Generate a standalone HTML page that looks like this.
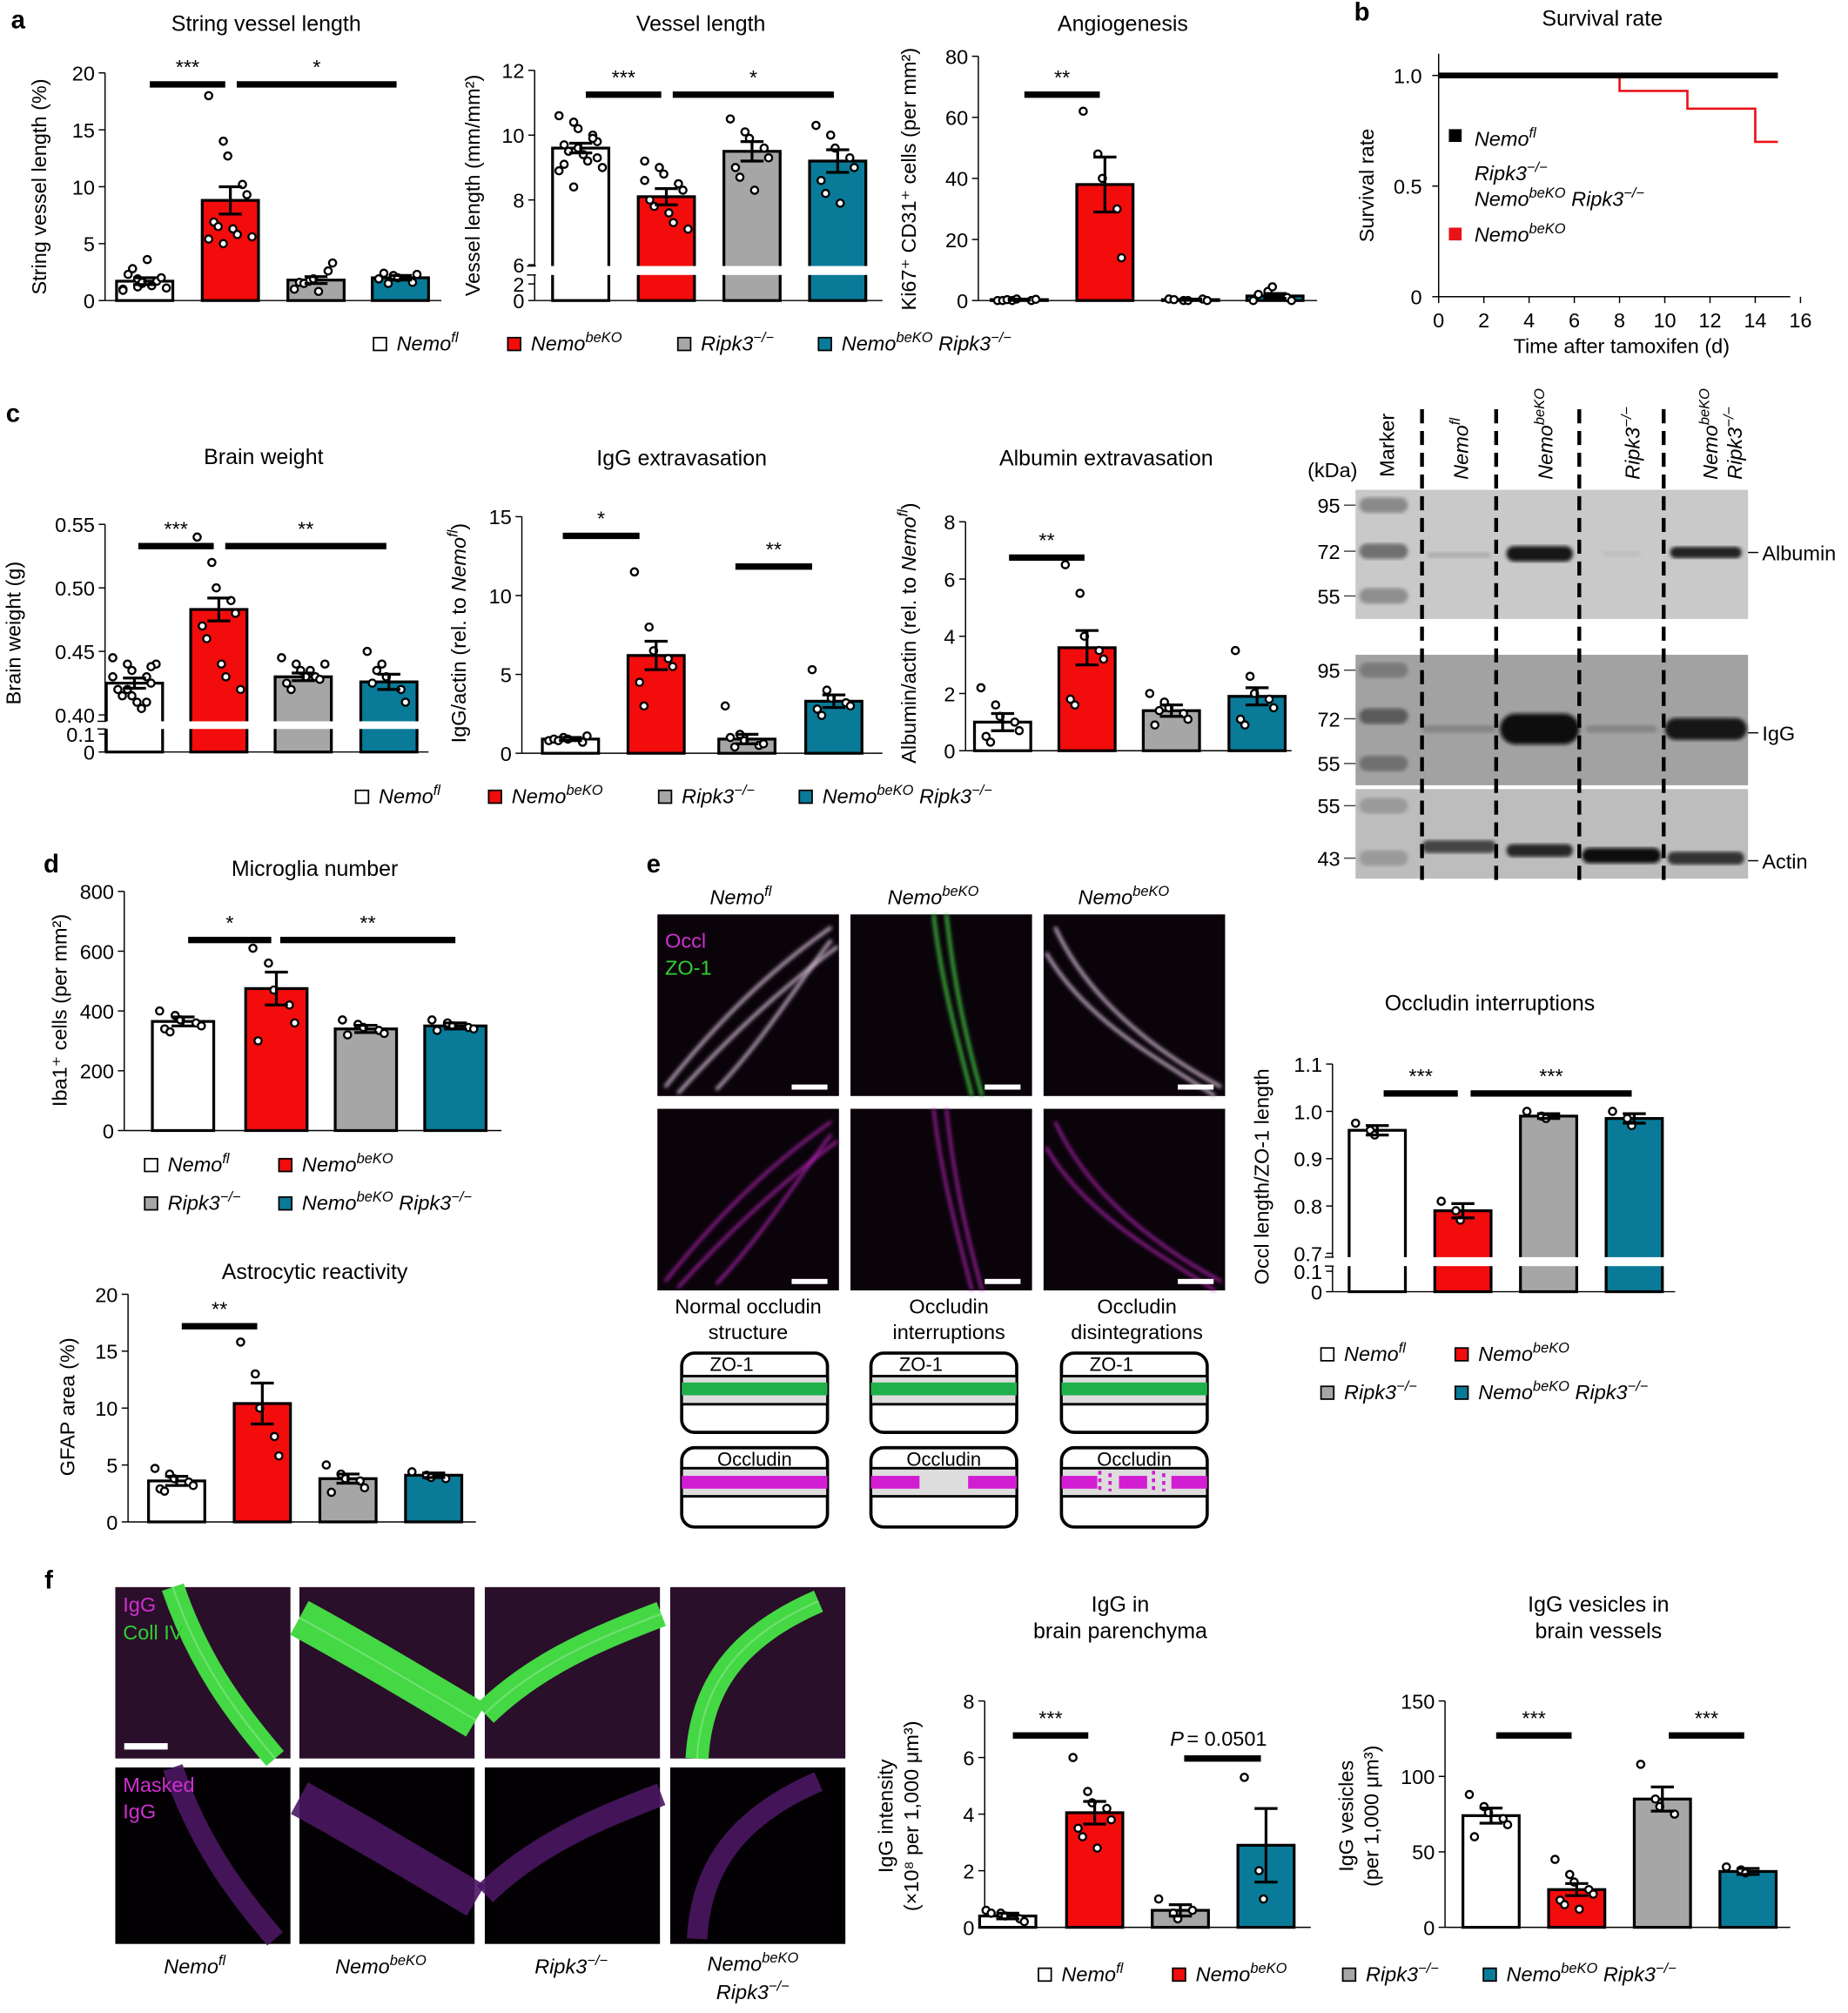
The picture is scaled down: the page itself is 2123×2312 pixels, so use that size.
<!DOCTYPE html>
<html><head><meta charset="utf-8"><style>
html,body{margin:0;padding:0;background:#fff;}
svg{display:block;font-family:"Liberation Sans",sans-serif;}
</style></head><body>
<svg id="fig" xmlns="http://www.w3.org/2000/svg" width="2123" height="2312" viewBox="0 0 1445 1574">
<defs>
<filter id="blur1"><feGaussianBlur stdDeviation="1.5"/></filter>
<filter id="blur3"><feGaussianBlur stdDeviation="3"/></filter>
</defs>
<g id="root"></g>
</svg>
<script>
// ---------- DATA ----------
const groups = ["Nemo fl","Nemo beKO","Ripk3 -/-","Nemo beKO Ripk3 -/-"];
const stringVals = [1.7, 8.8, 1.8, 2.0];
const stringErr = [0.3, 1.2, 0.3, 0.2];
const stringPts = [[1.0,1.2,1.5,1.7,2.0,2.3,2.8,3.6,1.3,1.1,0.9,1.9,1.6],[18,14,12.7,10.2,9.3,6.9,6.5,6.3,5.8,5.6,5.4,5.0],[1.0,1.7,1.9,2.6,3.3,1.6,1.5,0.8],[1.9,2.2,2.0,1.6,2.3,2.4,1.5]];
const vesselVals = [9.6, 8.1, 9.5, 9.2];
const vesselErr = [0.15, 0.25, 0.3, 0.35];
const vesselPts = [[10.6,10.4,10.2,10.0,9.8,9.7,9.5,9.4,9.2,9.0,8.9,8.4,9.6,9.9,9.3,9.1],[9.2,9.0,8.8,8.5,8.3,8.0,7.8,7.6,7.3,7.1,8.6],[10.5,10.1,9.9,9.6,9.3,9.0,8.7,8.3],[10.3,10.0,9.6,9.3,9.0,8.6,8.2,7.9]];
const angioVals = [0.3, 38, 0.3, 1.5];
const angioErr = [0.2, 9, 0.2, 0.8];
const angioPts = [[0,0,0.5,0,0.4,0,0.3],[62,48,40,30,14],[0.5,0,0,0.5,0,0.3],[0,3,4.5,1,0,2]];
const survDays = [0,8,11,14,15];
const survRed = [1.0,0.93,0.85,0.70,0.70];
const survBlack = [1.0,1.0,1.0,1.0,1.0];
const brainVals = [0.425, 0.483, 0.430, 0.426];
const brainErr = [0.004, 0.009, 0.003, 0.006];
const brainPts = [[0.445,0.44,0.435,0.43,0.425,0.42,0.415,0.41,0.405,0.44,0.43,0.42,0.415,0.41,0.438],[0.54,0.52,0.50,0.49,0.48,0.47,0.46,0.44,0.43,0.42],[0.445,0.44,0.435,0.43,0.428,0.425,0.42,0.43,0.435,0.44],[0.45,0.44,0.43,0.42,0.41,0.425,0.435]];
const iggVals = [0.9, 6.2, 0.9, 3.3];
const iggErr = [0.1, 0.9, 0.3, 0.4];
const iggPts = [[0.8,1.0,0.9,0.7,1.1,0.9,0.8],[11.5,8.0,6.5,6.0,5.5,4.5,3.0],[3.0,1.2,0.8,0.5,0.6,1.0,0.4],[5.3,4.0,3.5,3.2,3.0,2.8,2.4]];
const albVals = [1.0, 3.6, 1.4, 1.9];
const albErr = [0.3, 0.6, 0.2, 0.3];
const albPts = [[2.2,1.6,1.2,1.0,0.7,0.5,0.3],[6.5,5.5,4.0,3.5,3.2,1.8,1.6],[2.0,1.7,1.5,1.3,1.1,0.9,1.4],[3.5,2.6,2.0,1.8,1.5,1.1,0.9]];
const microVals = [365, 475, 340, 350];
const microErr = [15, 55, 12, 10];
const microPts = [[400,385,370,360,350,340,330],[610,560,470,420,360,300],[370,355,345,335,325,320],[370,360,350,345,340,335]];
const gfapVals = [3.6, 10.4, 3.8, 4.1];
const gfapErr = [0.4, 1.8, 0.4, 0.2];
const gfapPts = [[4.7,4.2,3.8,3.5,3.2,2.9,2.7],[15.8,13.0,10.0,7.5,5.8],[5.0,4.2,3.8,3.6,3.0,2.6],[4.4,4.1,3.9,3.8]];
const occVals = [0.96, 0.79, 0.99, 0.985];
const occErr = [0.01, 0.015, 0.005, 0.01];
const occPts = [[0.975,0.96,0.95],[0.81,0.79,0.77],[1.0,0.99,0.985],[1.0,0.985,0.97]];
const intVals = [0.4, 4.05, 0.6, 2.9];
const intErr = [0.1, 0.4, 0.2, 1.3];
const intPts = [[0.6,0.5,0.4,0.3,0.2,0.5],[6.0,4.8,4.4,4.2,3.8,3.5,3.2,2.8],[1.0,0.5,0.3,0.6],[5.3,2.0,1.0]];
const vesVals = [74, 25, 85, 37];
const vesErr = [5, 4, 8, 2];
const vesPts = [[88,80,76,72,68,60],[45,35,30,25,22,18,15,12],[108,85,80,75],[40,38,36]];

// ---------- HELPERS ----------
const NS="http://www.w3.org/2000/svg";
const root=document.getElementById('root');
const COL=["#ffffff","#f20c0c","#a6a6a6","#097b98"];
function mk(tag,attrs,parent){const e=document.createElementNS(NS,tag);for(const k in attrs)e.setAttribute(k,attrs[k]);(parent||root).appendChild(e);return e;}
function txt(x,y,s,size,opts,parent){opts=opts||{};const t=mk('text',{x:x,y:y,'font-size':size,'text-anchor':opts.anchor||'middle',fill:opts.fill||'#000'},parent);if(opts.italic)t.setAttribute('font-style','italic');if(opts.bold)t.setAttribute('font-weight','bold');if(opts.rot)t.setAttribute('transform','rotate('+opts.rot+' '+x+' '+y+')');t.textContent=s;return t;}
// parts: [text, sup, resetBaseline, normal(non-italic)]
function richTxt(x,y,parts,size,opts,parent){opts=opts||{};const t=mk('text',{x:x,y:y,'font-size':size,'text-anchor':opts.anchor||'start','font-style':'italic'},parent);if(opts.rot)t.setAttribute('transform','rotate('+opts.rot+' '+x+' '+y+')');parts.forEach(p=>{const s=document.createElementNS(NS,'tspan');if(p[1]){s.setAttribute('font-size',size*0.7);s.setAttribute('dy',-size*0.4);}else if(p[2]){s.setAttribute('dy',size*0.4);}if(p[3])s.setAttribute('font-style','normal');s.textContent=p[0];t.appendChild(s);});return t;}
function lab(t,n,i){return t;}
function panelLetter(x,y,s){const t=txt(x,y,s,20,{bold:true});}
function gparts(i){if(i==0)return [["Nemo"],["fl",1]];if(i==1)return [["Nemo"],["beKO",1]];if(i==2)return [["Ripk3"],["−/−",1]];return [["Nemo"],["beKO",1],[" Ripk3",0,1],["−/−",1]];}
function legendItem(x,y,i,g){const r=mk('rect',{x:x,y:y-10,width:10,height:10,fill:COL[i],stroke:'#000','stroke-width':1.2},g);const t=richTxt(x+18,y,gparts(i),16,{},g);}

function barChart(c){
  const g=mk('g',{});
  const y=c.y;
  const ax=mk('line',{x1:c.ax,y1:y(c.ymax),x2:c.ax,y2:c.base,stroke:'#000','stroke-width':1},g);
  const xa=mk('line',{x1:c.ax,y1:c.base,x2:c.axEnd,y2:c.base,stroke:'#000','stroke-width':1},g);
  c.ticks.forEach(t=>{const l=mk('line',{x1:c.ax-5,x2:c.ax,y1:y(t),y2:y(t),stroke:'#000'},g);const tl=txt(c.ax-8,y(t)+6,c.fmt?c.fmt(t):String(t),c.tsize||16,{anchor:'end'},g);});
  c.vals.forEach((v,i)=>{
    const cx=c.cx[i],w=c.bw||44;
    const b=mk('rect',{x:cx-w/2,y:y(v),width:w,height:c.base-y(v),fill:COL[i],stroke:'#000','stroke-width':2.2},g);
    
    (c.pts[i]||[]).forEach((p,j)=>{const off=((j%5)-2)*w*0.17+((j%2)?2:-2);const d=mk('circle',{cx:cx+off,cy:y(p),r:2.8,fill:'#fff',stroke:'#000','stroke-width':1.6},g);});
    const e=c.errs[i];const eg=mk('path',{d:`M${cx},${y(v-e)}V${y(v+e)}M${cx-9},${y(v+e)}H${cx+9}M${cx-9},${y(v-e)}H${cx+9}`,stroke:'#000','stroke-width':2.2,fill:'none'},g);
  });
  if(c.brk){const r=mk('rect',{x:c.ax-8,y:c.brk[0],width:c.axEnd-c.ax+10,height:c.brk[1]-c.brk[0],fill:'#fff'},g);mk('line',{x1:c.ax-6,x2:c.ax+1,y1:c.brk[0],y2:c.brk[0],stroke:'#000'},g);mk('line',{x1:c.ax-6,x2:c.ax+1,y1:c.brk[1],y2:c.brk[1],stroke:'#000'},g);
    c.lowTicks.forEach(t=>{mk('line',{x1:c.ax-5,x2:c.ax,y1:y(t),y2:y(t),stroke:'#000'},g);const tl=txt(c.ax-8,y(t)+6,c.fmt?c.fmt(t):String(t),c.tsize||16,{anchor:'end'},g);});}
  (c.sig||[]).forEach(s=>{const l=mk('rect',{x:s[0],y:s[2]-2.5,width:s[1]-s[0],height:5,fill:'#000'},g);const t=txt((s[0]+s[1])/2,s[2]-8,s[3],16,{},g);});
  const tt=txt(c.title[1],c.title[2],c.title[0],17,{},g);
  if(c.title2){const t2=txt(c.title[1],c.title[2]+21,c.title2,17,{},g);}
  c.ylab.forEach(yl=>{let t;if(yl[3]){t=richTxt(yl[1],yl[2],yl[3],16,{rot:-90,anchor:'middle'},g);}else t=txt(yl[1],yl[2],yl[0],16,{rot:-90},g);});
}
function lin(v0,p0,v1,p1){return v=>p0+(v-v0)*(p1-p0)/(v1-v0);}
function brokenY(lowMax,lowMaxPx,hi0,hi0px,hi1,hi1px,base){const hi=lin(hi0,hi0px,hi1,hi1px);const lo=lin(0,base,lowMax,lowMaxPx);return v=>v>=hi0?hi(v):(v<=lowMax?lo(v):hi0px);}

// ---------- PANEL a ----------
panelLetter(14,22,'a');
barChart({name:'string-vessel-chart',ax:82,axEnd:345,base:235,ymax:20,y:lin(0,235,20,57),ticks:[0,5,10,15,20],vals:stringVals,errs:stringErr,pts:stringPts,cx:[113,180,247,313],sig:[[117,176,66,'***'],[185,310,66,'*']],title:['String vessel length',208,24],ylab:[['String vessel length (%)',36,146]]});
barChart({name:'vessel-length-chart',ax:418,axEnd:690,base:235,ymax:12,y:brokenY(2,222,6,207,12,55,235),ticks:[6,8,10,12],lowTicks:[0,2],brk:[208,215],vals:vesselVals,errs:vesselErr,pts:vesselPts,cx:[454,521,588,655],sig:[[458,517,74,'***'],[526,652,74,'*']],title:['Vessel length',548,24],ylab:[['Vessel length (mm/mm²)',375,145]]});
barChart({name:'angiogenesis-chart',ax:765,axEnd:1030,base:235,ymax:80,y:lin(0,235,80,44),ticks:[0,20,40,60,80],vals:angioVals,errs:angioErr,pts:angioPts,cx:[797,864,931,997],sig:[[801,860,74,'**']],title:['Angiogenesis',878,24],ylab:[['Ki67⁺ CD31⁺ cells (per mm²)',716,140]]});
{const g=mk('g',{});lab(g,'legend-a');[[292,0],[397,1],[530,2],[640,3]].forEach(p=>legendItem(p[0],274,p[1],g));}

// ---------- PANEL b survival ----------
panelLetter(1065,16,'b');
{const g=mk('g',{});lab(g,'survival-chart');
 const xs=lin(0,1125,16,1408),ys=lin(0,232,1,59);
 mk('line',{x1:1125,y1:42,x2:1125,y2:232,stroke:'#000'},g);mk('line',{x1:1125,y1:232,x2:1400,y2:232,stroke:'#000'},g);
 [0,0.5,1.0].forEach(v=>{mk('line',{x1:1120,x2:1125,y1:ys(v),y2:ys(v),stroke:'#000'},g);lab(txt(1112,ys(v)+6,v==0?'0':v.toFixed(1),16,{anchor:'end'},g),'y-tick-label');});
 [0,2,4,6,8,10,12,14,16].forEach(v=>{mk('line',{x1:xs(v),x2:xs(v),y1:232,y2:237,stroke:'#000'},g);lab(txt(xs(v),256,String(v),16,{},g),'x-tick-label');});
 function step(arr,col,w,n){let d=`M${xs(survDays[0])},${ys(arr[0])}`;for(let i=1;i<survDays.length;i++){d+=`H${xs(survDays[i])}V${ys(arr[i])}`;}const p=mk('path',{d:d,fill:'none',stroke:col,'stroke-width':w},g);lab(p,n);}
 step(survRed,'#e8141a',1.8,'survival-line-nemo-beko');step(survBlack,'#000',4.5,'survival-line-control');
 lab(txt(1253,20,'Survival rate',17,{},g),'chart-title');lab(txt(1268,276,'Time after tamoxifen (d)',16,{},g),'x-axis-title');lab(txt(1074,145,'Survival rate',16,{rot:-90},g),'y-axis-title');
 mk('rect',{x:1133,y:101,width:10,height:10,fill:'#000'},g);lab(richTxt(1153,114,[["Nemo"],["fl",1]],16,{},g),'legend-label');
 lab(richTxt(1153,141,[["Ripk3"],["−/−",1]],16,{},g),'legend-label');lab(richTxt(1153,161,[["Nemo"],["beKO",1],[" Ripk3",0,1],["−/−",1]],16,{},g),'legend-label');
 mk('rect',{x:1133,y:178,width:10,height:10,fill:'#e8141a'},g);lab(richTxt(1153,189,[["Nemo"],["beKO",1]],16,{},g),'legend-label');
}

// ---------- PANEL c ----------
panelLetter(10,330,'c');
barChart({name:'brain-weight-chart',ax:82,axEnd:335,base:588,ymax:0.55,y:brokenY(0.1,574,0.40,559,0.55,410,588),ticks:[0.40,0.45,0.50,0.55],lowTicks:[0,0.1],brk:[564,570],fmt:v=>v==0?'0':(v==0.1?'0.1':v.toFixed(2)),vals:brainVals,errs:brainErr,pts:brainPts,cx:[105,171,237,304],sig:[[108,167,427,'***'],[176,302,427,'**']],title:['Brain weight',206,363],ylab:[['Brain weight (g)',16,495]]});
barChart({name:'igg-extravasation-chart',ax:408,axEnd:690,base:589,ymax:15,y:lin(0,589,15,404),ticks:[0,5,10,15],vals:iggVals,errs:iggErr,pts:iggPts,cx:[446,513,584,652],sig:[[440,500,419,'*'],[575,635,443,'**']],title:['IgG extravasation',533,364],ylab:[['',364,495,[['IgG/actin (rel. to ',0,0,1],['Nemo'],['fl',1],[')',0,1,1]]]]});
barChart({name:'albumin-extravasation-chart',ax:755,axEnd:1010,base:587,ymax:8,y:lin(0,587,8,408),ticks:[0,2,4,6,8],vals:albVals,errs:albErr,pts:albPts,cx:[784,850,916,983],sig:[[789,848,436,'**']],title:['Albumin extravasation',865,364],ylab:[['',716,495,[['Albumin/actin (rel. to ',0,0,1],['Nemo'],['fl',1],[')',0,1,1]]]]});
{const g=mk('g',{});lab(g,'legend-c');[[278,0],[382,1],[515,2],[625,3]].forEach(p=>legendItem(p[0],628,p[1],g));}

// western blot
{const g=mk('g',{});lab(g,'western-blot');
 lab(txt(1042,373,'(kDa)',16,{},g),'kda-label');
 lab(txt(1090,373,'Marker',16,{anchor:'start',rot:-90},g),'lane-label');
 lab(richTxt(1148,375,[["Nemo"],["fl",1]],16,{rot:-90},g),'lane-label');
 lab(richTxt(1214,375,[["Nemo"],["beKO",1]],16,{rot:-90},g),'lane-label');
 lab(richTxt(1282,375,[["Ripk3"],["−/−",1]],16,{rot:-90},g),'lane-label');
 lab(richTxt(1343,375,[["Nemo"],["beKO",1]],16,{rot:-90},g),'lane-label');
 lab(richTxt(1362,375,[["Ripk3"],["−/−",1]],16,{rot:-90},g),'lane-label');
 const panels=[[383,484,'#c9c9c9'],[512,614,'#a2a2a2'],[617,687,'#bdbdbd']];
 panels.forEach((p,i)=>{const r=mk('rect',{x:1060,y:p[0],width:307,height:p[1]-p[0],fill:p[2]},g);lab(r,'blot-panel');});
 [[395,'#8a8a8a'],[431,'#707070'],[466,'#8e8e8e'],[524,'#7a7a7a'],[560,'#5a5a5a'],[597,'#707070'],[630,'#9a9a9a'],[671,'#9a9a9a']].forEach(b=>{mk('rect',{x:1063,y:b[0]-6,width:38,height:12,rx:6,fill:b[1],filter:'url(#blur1)'},g);});
 // sample bands [cx,cy,w,h,color]
 [[1141,434,50,5,'#b0b0b0'],[1204,433,52,12,'#161616'],[1268,433,30,4,'#bdbdbd'],[1334,432,56,9,'#222'],
  [1141,570,58,6,'#858585'],[1204,570,62,24,'#0a0a0a'],[1268,570,56,6,'#858585'],[1334,570,64,17,'#151515'],
  [1141,662,58,10,'#444'],[1204,665,52,10,'#262626'],[1268,669,62,12,'#111'],[1334,671,60,10,'#333']].forEach(b=>{const e=mk('rect',{x:b[0]-b[2]/2,y:b[1]-b[3]/2,width:b[2],height:b[3],rx:b[3]/2,fill:b[4],filter:'url(#blur1)'},g);lab(e,'blot-band');});
 [[95,395],[72,431],[55,466],[95,524],[72,562],[55,597],[55,630],[43,671]].forEach(k=>{lab(txt(1048,k[1]+6,String(k[0]),16,{anchor:'end'},g),'kda-tick');mk('line',{x1:1051,x2:1060,y1:k[1],y2:k[1],stroke:'#444'},g);});
 [[1112],[1170],[1235],[1301]].forEach(d=>{mk('line',{x1:d[0],x2:d[0],y1:320,y2:690,stroke:'#000','stroke-width':3,'stroke-dasharray':'11,6'},g);});
 [['Albumin',432],['IgG',573],['Actin',673]].forEach(l=>{mk('line',{x1:1367,x2:1375,y1:l[1],y2:l[1],stroke:'#000'},g);lab(txt(1378,l[1]+6,l[0],16,{anchor:'start'},g),'band-label');});
}

// ---------- PANEL d ----------
panelLetter(40,682,'d');
barChart({name:'microglia-chart',ax:97,axEnd:392,base:884,ymax:800,y:lin(0,884,800,697),ticks:[0,200,400,600,800],vals:microVals,errs:microErr,pts:microPts,cx:[143,216,286,356],bw:48,sig:[[147,212,735,'*'],[219,356,735,'**']],title:['Microglia number',246,685],ylab:[['Iba1⁺ cells (per mm²)',52,790]]});
{const g=mk('g',{});lab(g,'legend-d');legendItem(113,916,0,g);legendItem(218,916,1,g);legendItem(113,946,2,g);legendItem(218,946,3,g);}
barChart({name:'astrocytic-chart',ax:100,axEnd:372,base:1190,ymax:20,y:lin(0,1190,20,1012),ticks:[0,5,10,15,20],vals:gfapVals,errs:gfapErr,pts:gfapPts,cx:[138,205,272,339],sig:[[142,201,1037,'**']],title:['Astrocytic reactivity',246,1000],ylab:[['GFAP area (%)',58,1100]]});

// ---------- PANEL e images ----------
panelLetter(511,682,'e');
{const g=mk('g',{});lab(g,'occludin-micrographs');
 lab(richTxt(555,707,[["Nemo"],["fl",1]],16,{},g),'image-label');lab(richTxt(694,707,[["Nemo"],["beKO",1]],16,{},g),'image-label');lab(richTxt(843,707,[["Nemo"],["beKO",1]],16,{},g),'image-label');
 const xs=[514,665,816];
 const paths=[["M520,850 C560,800 600,760 650,725","M530,855 C575,805 615,770 655,740","M560,852 C600,810 630,760 650,735"],
   ["M730,715 C735,760 745,800 760,857","M740,715 C745,760 752,800 768,857"],
   ["M825,725 C850,780 900,820 955,850","M818,745 C850,800 910,830 950,857"]];
 xs.forEach((x,i)=>{[715,867].forEach((y,r)=>{const b=mk('rect',{x:x,y:y,width:142,height:142,fill:'#0a040a'},g);lab(b,'micrograph');
   paths[i].forEach(d=>{const p=mk('path',{d:d,transform:`translate(0,${y-715})`,fill:'none',stroke:r==0?(i==1?'#3fbf3f':'#c8b0c8'):'#b020b0','stroke-width':r==0?2.5:2,filter:'url(#blur1)'},g);lab(p,'vessel-signal');});
   mk('rect',{x:x+105,y:y+133,width:28,height:4,fill:'#fff'},g);});});
 lab(txt(520,741,'Occl',16,{anchor:'start',fill:'#d030d0'},g),'channel-label');lab(txt(520,762,'ZO-1',16,{anchor:'start',fill:'#30d030'},g),'channel-label');
 [['Normal occludin','structure',585],['Occludin','interruptions',742],['Occludin','disintegrations',889]].forEach(t=>{lab(txt(t[2],1027,t[0],16,{},g),'schematic-title');lab(txt(t[2],1047,t[1],16,{},g),'schematic-title');});
 [533,681,830].forEach((x,i)=>{
   mk('rect',{x:x,y:1058,width:114,height:62,rx:10,fill:'#fff',stroke:'#000','stroke-width':2.5},g);
   mk('rect',{x:x,y:1076,width:114,height:22,fill:'#ddd',stroke:'#000','stroke-width':2},g);mk('rect',{x:x,y:1081,width:114,height:10,fill:'#1fb04a'},g);
   lab(txt(x+22,1072,'ZO-1',15,{anchor:'start'},g),'schematic-label');
   mk('rect',{x:x,y:1132,width:114,height:62,rx:10,fill:'#fff',stroke:'#000','stroke-width':2.5},g);
   mk('rect',{x:x,y:1148,width:114,height:22,fill:'#ddd',stroke:'#000','stroke-width':2},g);
   if(i==0)mk('rect',{x:x,y:1154,width:114,height:10,fill:'#d21dd2'},g);
   if(i==1){mk('rect',{x:x,y:1154,width:38,height:10,fill:'#d21dd2'},g);mk('rect',{x:x+76,y:1154,width:38,height:10,fill:'#d21dd2'},g);}
   if(i==2){mk('rect',{x:x,y:1154,width:28,height:10,fill:'#d21dd2'},g);mk('rect',{x:x+86,y:1154,width:28,height:10,fill:'#d21dd2'},g);mk('rect',{x:x+45,y:1154,width:22,height:10,fill:'#d21dd2'},g);mk('path',{d:`M${x+30},1150V1168M${x+38},1152V1166M${x+72},1150V1168M${x+80},1152V1166`,stroke:'#d21dd2','stroke-width':2.5,'stroke-dasharray':'3,3'},g);}
   lab(txt(x+57,1146,'Occludin',15,{},g),'schematic-label');
 });
}
barChart({name:'occludin-interruptions-chart',ax:1042,axEnd:1310,base:1010,ymax:1.1,y:brokenY(0.1,994,0.7,980,1.1,832,1010),ticks:[0.7,0.8,0.9,1.0,1.1],lowTicks:[0,0.1],brk:[983,990],fmt:v=>v==0?'0':v.toFixed(1),vals:occVals,errs:occErr,pts:occPts,cx:[1077,1144,1211,1278],sig:[[1082,1140,855,'***'],[1150,1276,855,'***']],title:['Occludin interruptions',1165,790],ylab:[['Occl length/ZO-1 length',992,920]]});
{const g=mk('g',{});lab(g,'legend-e');legendItem(1033,1064,0,g);legendItem(1138,1064,1,g);legendItem(1033,1094,2,g);legendItem(1138,1094,3,g);}

// ---------- PANEL f ----------
panelLetter(38,1242,'f');
{const g=mk('g',{});lab(g,'igg-micrographs');
 const xs=[90,234,379,524];
 const tops=["M135,1241 C155,1300 185,1340 215,1375","M234,1265 C280,1290 330,1320 372,1345","M379,1340 C420,1300 470,1280 517,1262","M545,1375 C548,1320 575,1280 640,1252"];
 const wid=[18,30,20,18];
 xs.forEach((x,i)=>{
  const a=mk('rect',{x:x,y:1241,width:137,height:134,fill:'#2a0f2a'},g);lab(a,'micrograph');
  const p=mk('path',{d:tops[i],fill:'none',stroke:'#44d844','stroke-width':wid[i],'stroke-linecap':'butt'},g);lab(p,'vessel-signal');
  mk('path',{d:tops[i],fill:'none',stroke:'#8ee88e','stroke-width':1.5,opacity:0.6},g);
  const b=mk('rect',{x:x,y:1382,width:137,height:138,fill:'#030103'},g);lab(b,'micrograph');
  const q=mk('path',{d:tops[i],transform:'translate(0,141)',fill:'none',stroke:'#4a1660','stroke-width':wid[i]-2,opacity:0.9},g);lab(q,'vessel-signal');
 });
 mk('rect',{x:97,y:1363,width:34,height:5,fill:'#fff'},g);
 lab(txt(96,1260,'IgG',16,{anchor:'start',fill:'#d030d0'},g),'channel-label');lab(txt(96,1282,'Coll IV',16,{anchor:'start',fill:'#30d030'},g),'channel-label');
 lab(txt(96,1401,'Masked',16,{anchor:'start',fill:'#d030d0'},g),'channel-label');lab(txt(96,1422,'IgG',16,{anchor:'start',fill:'#d030d0'},g),'channel-label');
 lab(richTxt(128,1543,[["Nemo"],["fl",1]],16,{},g),'image-label');lab(richTxt(262,1543,[["Nemo"],["beKO",1]],16,{},g),'image-label');
 lab(richTxt(418,1543,[["Ripk3"],["−/−",1]],16,{},g),'image-label');lab(richTxt(553,1541,[["Nemo"],["beKO",1]],16,{},g),'image-label');lab(richTxt(560,1563,[["Ripk3"],["−/−",1]],16,{},g),'image-label');
}
barChart({name:'igg-intensity-chart',ax:770,axEnd:1025,base:1507,ymax:8,y:lin(0,1507,8,1330),ticks:[0,2,4,6,8],vals:intVals,errs:intErr,pts:intPts,cx:[788,856,923,990],sig:[[792,851,1357,'***'],[926,986,1375,'']],title:['IgG in',876,1260],title2:'brain parenchyma',ylab:[['IgG intensity',698,1420],['(×10⁸ per 1,000 μm³)',718,1420]]});
{const t=richTxt(915,1365,[["P"]],16,{});lab(t,'p-value-label');const t2=txt(928,1365,' = 0.0501',16,{anchor:'start'});lab(t2,'p-value-label');}
barChart({name:'igg-vesicles-chart',ax:1130,axEnd:1400,base:1507,ymax:150,y:lin(0,1507,150,1330),ticks:[0,50,100,150],vals:vesVals,errs:vesErr,pts:vesPts,cx:[1166,1233,1300,1367],sig:[[1170,1229,1357,'***'],[1305,1364,1357,'***']],title:['IgG vesicles in',1250,1260],title2:'brain vessels',ylab:[['IgG vesicles',1058,1420],['(per 1,000 μm³)',1078,1420]]});
{const g=mk('g',{});lab(g,'legend-f');[[812,0],[917,1],[1050,2],[1160,3]].forEach(p=>legendItem(p[0],1549,p[1],g));}
</script>
</body></html>
